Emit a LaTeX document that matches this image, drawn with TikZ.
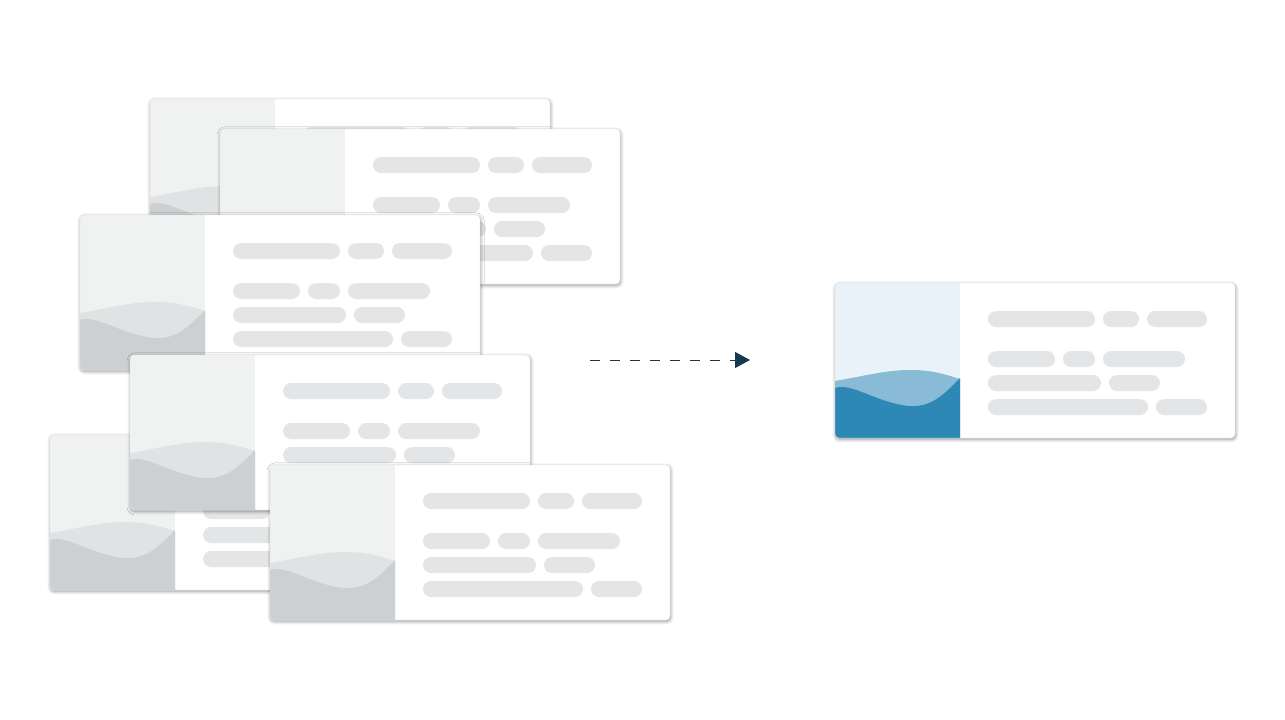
\documentclass[tikz,border=0pt]{standalone}
\usetikzlibrary{arrows.meta,shadows.blur}

\definecolor{panelgrey}{HTML}{F0F1F1}
\definecolor{wavegrey}{HTML}{E1E2E4}
\definecolor{frontgrey}{HTML}{CDD0D3}
\definecolor{panelblue}{HTML}{EAF2F9}
\definecolor{waveblue}{HTML}{8ABBD6}
\definecolor{frontblue}{HTML}{2D88B5}
\definecolor{pillgrey}{HTML}{E4E5E6}
\definecolor{edgegrey}{HTML}{E2E3E4}
\definecolor{arrowdark}{HTML}{143A4F}

\tikzset{
  pill/.style={fill=pillgrey, rounded corners=8pt},
  cardshadow/.style={blur shadow={shadow xshift=0.6pt, shadow yshift=-1.4pt,
    shadow blur radius=3.5pt, shadow blur steps=8, shadow opacity=40}},
  pics/infocard/.style n args={3}{code={
    \fill[white, rounded corners=4pt, cardshadow] (0,0) rectangle (400,155);
    \begin{scope}
    \clip[rounded corners=4pt] (0,0) rectangle (400,155);
    \fill[#1] (0,0) rectangle (125,155);
    \fill[#2] (0,98) .. controls (30,93) and (50,87) .. (76,87)
      .. controls (98,87) and (112,92) .. (125,96) -- (125,155) -- (0,155) -- cycle;
    \fill[#3] (0,105) .. controls (16,99) and (42,120) .. (74,123)
      .. controls (98,125) and (112,108) .. (125,95) -- (125,155) -- (0,155) -- cycle;
    \end{scope}
    \draw[edgegrey, line width=0.3pt, rounded corners=4pt] (0,0) rectangle (400,155);
    \foreach \a/\b/\y in {153/260/36, 268/304/36, 312/372/36,
                          153/220/76, 228/260/76, 268/350/76,
                          153/266/100, 274/325/100,
                          153/313/124, 321/372/124} % text lines
    \fill[pill] (\a,\y-8) rectangle (\b,\y+8);
  }}
}

\begin{document}
\begin{tikzpicture}[x=1pt,y=-1pt]
\useasboundingbox (0,0) rectangle (1285,720);
\foreach \x/\y in {150/99, 220/129, 80/215, 50/435, 130/355, 270/465} % the stack
\pic at (\x,\y) {infocard={panelgrey}{wavegrey}{frontgrey}};
\pic at (835,283) {infocard={panelblue}{waveblue}{frontblue}};
\coordinate (from) at (590,360);
\coordinate (to) at (750,360);
\draw[arrowdark, line width=1pt, dash pattern=on 10pt off 10pt,
  -{Triangle[length=15pt,width=16pt]}] (from) -- (to);
\end{tikzpicture}
\end{document}
